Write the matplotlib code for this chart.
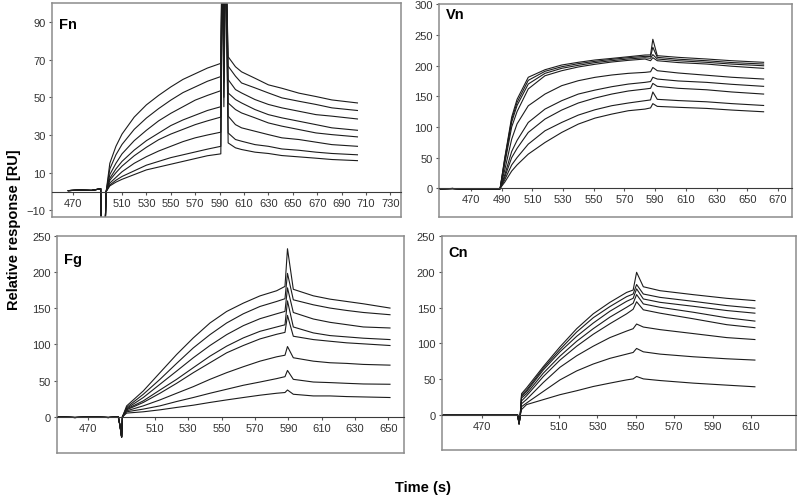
import matplotlib.pyplot as plt

plt.rcParams['font.family'] = ['Liberation Sans', 'DejaVu Sans']

# ---- values (time in s, response in RU) ----

# Fn: shared baseline + injection dip, then 8 curves
fn_base_t = [466, 475, 485, 492.5, 493, 496.3]
fn_base_v = [0.5, 0.8, 0.6, 1.5, -16, -16]
fn_t = [497, 500, 505, 510, 520, 530, 540, 550, 560, 570, 580, 591,
        592, 593.5, 595,
        597, 603, 608, 619, 630, 641, 655, 669, 682, 703]
fn_1 = [0, 15, 24, 30.5, 39.5, 46, 51, 55.5, 59.5, 62.5, 65.5, 68,
        130, 95, 130, 71.5, 66.2, 63.5, 60.1, 56.6, 54.8, 52.2, 50.4, 48.6, 47.0]
fn_2 = [0, 12, 19.5, 25, 33, 39, 44, 48.5, 52.5, 55.5, 58.5, 61,
        130, 88, 130, 66.5, 61.2, 57.6, 55, 52.3, 49.7, 47.9, 46.2, 44.4, 43.0]
fn_3 = [0, 9, 15, 20, 27, 32.5, 37.5, 41.5, 45, 48.5, 51, 53.5,
        130, 80, 130, 59.4, 54.1, 52.3, 48.8, 46.2, 44.4, 42.6, 40.8, 40, 38.5]
fn_4 = [0, 7, 12, 16, 22, 27, 31, 35, 38, 40.5, 43, 45,
        130, 72, 130, 52.3, 48.8, 47, 43.5, 40.8, 39.1, 37.3, 35.5, 33.8, 32.5]
fn_5 = [0, 6, 10, 13.5, 19, 23.5, 27.5, 30.5, 33, 35.5, 37.5, 39.5,
        130, 66, 130, 47, 43.5, 41.7, 39.1, 36.4, 34.7, 32.9, 31.1, 30.2, 29.0]
fn_6 = [0, 4.5, 7.5, 10.5, 15, 18.5, 21.5, 24, 26.5, 28.5, 30, 31.5,
        130, 58, 130, 40, 35.5, 33.8, 32, 30.2, 28.5, 27.6, 26.2, 24.9, 24.0]
fn_7 = [0, 3.5, 6, 8, 11, 14, 16, 18, 19.5, 21, 22.5, 24,
        130, 50, 130, 31.1, 27.6, 26.7, 24.9, 24, 22.6, 21.9, 20.9, 20.2, 19.5]
fn_8 = [0, 3, 5, 6.5, 9, 11.5, 13, 14.5, 16, 17.5, 19, 20,
        130, 45, 130, 25.8, 23.2, 22.3, 20.9, 20.2, 19.1, 18.4, 17.7, 17.0, 16.4]

# Vn: 9 curves
vn_base_t = [449.5, 458, 466, 474, 482, 488.5]
vn_base_v = [-1, -0.5, -1.5, -1, -2, -2]
vn_t = [489, 492, 496.5, 500, 507.3, 518.2, 529.1, 539.9, 550.8, 561.7, 572.5, 583.4,
        587, 588.5,
        591.4, 605, 623.5, 640, 660.7]
vn_1 = [0, 50, 116, 145, 181, 193.3, 201, 205.4, 209.2, 211.8, 214.5, 217.3,
        217.5, 243, 216.2, 213.5, 210.8, 208, 205.4]
vn_2 = [0, 48, 112, 140, 176, 190.7, 198.2, 203.2, 207, 210.2, 212.9, 215.1,
        215, 230, 213.5, 210.5, 208, 205, 202.6]
vn_3 = [0, 45, 108, 135, 170, 187.4, 195.6, 200.5, 204.9, 208, 210.8, 212.9,
        212, 218, 210.8, 208, 205.4, 202.5, 199.8]
vn_4 = [0, 40, 100, 125, 162, 183.5, 191.7, 197.8, 202.2, 205.9, 208.6, 210.8,
        208, 213, 208, 205, 202.6, 199, 195.6]
vn_5 = [0, 30, 80, 105, 134.5, 153.6, 167.3, 175.4, 180.9, 184.7, 187.4, 189,
        190, 197, 191.7, 188, 184.3, 181, 178.1]
vn_6 = [0, 22, 60, 78, 107.3, 129.1, 142.8, 153.6, 160.1, 165.6, 169.9, 172.7,
        174, 181, 178.1, 175, 172.7, 169.5, 166.2]
vn_7 = [0, 18, 50, 65, 91, 112.8, 127.5, 139, 147.1, 153.6, 158.6, 161.8,
        163, 171, 166.2, 163, 160.6, 157, 153.6]
vn_8 = [0, 14, 38, 50, 71.9, 93.7, 107.3, 119.3, 128, 134.6, 139, 142.8,
        144, 157, 145, 143, 141, 138, 135]
vn_9 = [0, 10, 28, 38, 55.6, 74.6, 91, 104.6, 114.4, 120.9, 126.4, 129.1,
        131, 138, 133.5, 132, 130.2, 127.5, 124.7]

# Fg: 8 curves
fg_base_t = [452, 462, 472, 482, 488, 489, 490, 490.5]
fg_base_v = [0, -1, 0, -1, 0, -12, -28, 0]
fg_t = [493, 503, 513, 523, 533, 543, 553, 563, 573, 583, 588, 589.5,
        593, 605, 615, 625, 635, 651]
fg_1 = [15, 35.7, 60.9, 86, 108.9, 129.5, 145.4, 156.9, 166.9, 174, 180, 232,
        176, 167, 162.4, 159.2, 156, 150.1]
fg_2 = [12.9, 31.1, 51.7, 73.7, 95.1, 113.4, 129.5, 142.2, 152.3, 159.2, 163, 198,
        161.5, 154.6, 150.1, 146.8, 144, 140.9]
fg_3 = [11.5, 26.6, 44.9, 63.1, 81.5, 98.4, 113.4, 125.8, 135.4, 142.2, 145.5, 178,
        144, 135, 130.4, 127.2, 124, 122.6]
fg_4 = [10.6, 22, 37, 51.7, 67.8, 83.7, 97.5, 108.9, 118, 124, 127, 160,
        124, 115.8, 112.1, 110.3, 108.5, 106.6]
fg_5 = [9.6, 19.8, 32.5, 46.2, 60.9, 74.6, 88.3, 98.4, 107.5, 113.9, 116.5, 140,
        111.2, 106.6, 104.3, 102.1, 100.7, 98.4]
fg_6 = [8.2, 15.1, 23.3, 32.5, 41.6, 51.7, 60.9, 69.1, 76.8, 82.8, 85, 97,
        81.5, 76.8, 74.6, 73.7, 72.3, 71.3]
fg_7 = [6.9, 10.6, 15.1, 21.1, 26.6, 32.5, 38, 43.5, 48, 52.7, 55.4, 64,
        51.7, 48, 47.2, 46.2, 45.3, 44.9]
fg_8 = [5.1, 6.9, 9.6, 12.9, 16, 19.8, 23.3, 26.6, 29.8, 32.5, 33.5, 37,
        31.1, 28.8, 28.8, 27.9, 27.4, 26.6]

# Cn: 8 curves
cn_base_t = [449.5, 460, 470, 480, 488.5, 489.2, 489.8]
cn_base_v = [0, 0, 0, 0, 0, -12, 0]
cn_t = [490.5, 493.1, 501.8, 510.5, 519.2, 527.8, 536.5, 545.2, 548.6, 550.4,
        553.9, 562.6, 579.9, 597.3, 612]
cn_1 = [30, 38, 67.6, 95.2, 120.5, 141.2, 157.2, 171, 174.3, 199,
        178.9, 173.4, 167.9, 162.8, 159.6]
cn_2 = [28, 35, 65.4, 91.6, 115.9, 135.7, 151.3, 165.1, 168.8, 182,
        168.8, 164.1, 158.6, 152.7, 149]
cn_3 = [26, 33, 63, 88.3, 109.9, 128.3, 144.8, 158.6, 162.8, 176,
        161.9, 157.2, 151.7, 145.8, 142.1]
cn_4 = [24, 30, 58.5, 82.3, 103, 120.5, 136.6, 150.3, 155.9, 168,
        155, 150.3, 143.4, 135.7, 131.1]
cn_5 = [20, 27, 53.8, 76.8, 96.1, 112.7, 127.4, 141.2, 147.6, 158,
        146.8, 142.1, 134.3, 126.1, 121.9]
cn_6 = [16, 22, 45.5, 66.8, 82.8, 96.1, 108.1, 117.2, 120.5, 127,
        122.8, 119.2, 113.7, 108.1, 105.4]
cn_7 = [12, 17, 33.1, 49.2, 61.7, 71.3, 79.2, 85.1, 87.4, 93,
        88.3, 85.1, 81.4, 78.6, 76.8]
cn_8 = [8, 14.8, 21.7, 28.6, 34.1, 40, 44.7, 49.2, 50.6, 54,
        50.6, 48.3, 44.7, 41.9, 39.6]

# axis ticks
fn_xticks = [470] + list(range(510, 731, 20))
vn_xticks = list(range(470, 671, 20))
fg_xticks = [470] + list(range(510, 651, 20))
cn_xticks = [470] + list(range(510, 611, 20))
fn_yticks = [-10, 10, 30, 50, 70, 90]
vn_yticks = [0, 50, 100, 150, 200, 250, 300]
fg_yticks = [0, 50, 100, 150, 200, 250]
cn_yticks = [0, 50, 100, 150, 200, 250]

FRAME = "#8c8c8c"
LINE = "#1c1c1c"


def draw_panel(ax, base_t, base_v, t, curves, xlim, ylim, xticks, yticks, name, name_y):
    for c in curves:
        ax.plot(base_t + t, base_v + c, color=LINE, lw=0.8)
    ax.set_xlim(xlim)
    ax.set_ylim(ylim)
    ax.set_xticks(xticks)
    ax.set_yticks(yticks)
    # x axis drawn along the zero line, frame all around
    ax.spines["bottom"].set_position(("data", 0))
    ax.spines["bottom"].set_color("#3a3a3a")
    for s in ["left", "top", "right"]:
        ax.spines[s].set_color(FRAME)
        ax.spines[s].set_linewidth(1.1)
    ax.plot([0, 1], [0, 0], transform=ax.transAxes, color=FRAME, lw=1.1, clip_on=False)
    ax.tick_params(axis="x", length=2.5, width=0.8, pad=2, labelsize=8,
                   colors="#555555", labelcolor="#333333")
    ax.tick_params(axis="y", length=2.5, width=0.8, pad=2, labelsize=8,
                   colors="#555555", labelcolor="#333333")
    ax.text(0.02, name_y, name, transform=ax.transAxes, fontsize=10.5,
            fontweight="bold", va="center", ha="left")


fig = plt.figure(figsize=(8, 5.02), dpi=100)

ax_fn = fig.add_axes([0.065, 0.5657, 0.43625, 0.4263])
draw_panel(ax_fn, fn_base_t, fn_base_v, fn_t,
           [fn_1, fn_2, fn_3, fn_4, fn_5, fn_6, fn_7, fn_8],
           (452.6, 738.7), (-13.5, 100), fn_xticks, fn_yticks, "Fn", 0.9)

ax_vn = fig.add_axes([0.5491, 0.5657, 0.4405, 0.4249])
draw_panel(ax_vn, vn_base_t, vn_base_v, vn_t,
           [vn_1, vn_2, vn_3, vn_4, vn_5, vn_6, vn_7, vn_8, vn_9],
           (449.3, 679), (-47, 301), vn_xticks, vn_yticks, "Vn", 0.95)

ax_fg = fig.add_axes([0.0716, 0.0956, 0.4334, 0.4329])
draw_panel(ax_fg, fg_base_t, fg_base_v, fg_t,
           [fg_1, fg_2, fg_3, fg_4, fg_5, fg_6, fg_7, fg_8],
           (451.4, 659.4), (-50, 249), fg_xticks, fg_yticks, "Fg", 0.893)

ax_cn = fig.add_axes([0.5521, 0.1022, 0.4429, 0.4263])
draw_panel(ax_cn, cn_base_t, cn_base_v, cn_t,
           [cn_1, cn_2, cn_3, cn_4, cn_5, cn_6, cn_7, cn_8],
           (448.9, 633.4), (-48, 247), cn_xticks, cn_yticks, "Cn", 0.922)

fig.text(0.0175, 0.542, "Relative response [RU]", rotation=90, fontsize=10.5,
         fontweight="bold", ha="center", va="center")
fig.text(0.529, 0.028, "Time (s)", fontsize=10.5, fontweight="bold",
         ha="center", va="center")

fig.savefig("out.png", dpi=100)
